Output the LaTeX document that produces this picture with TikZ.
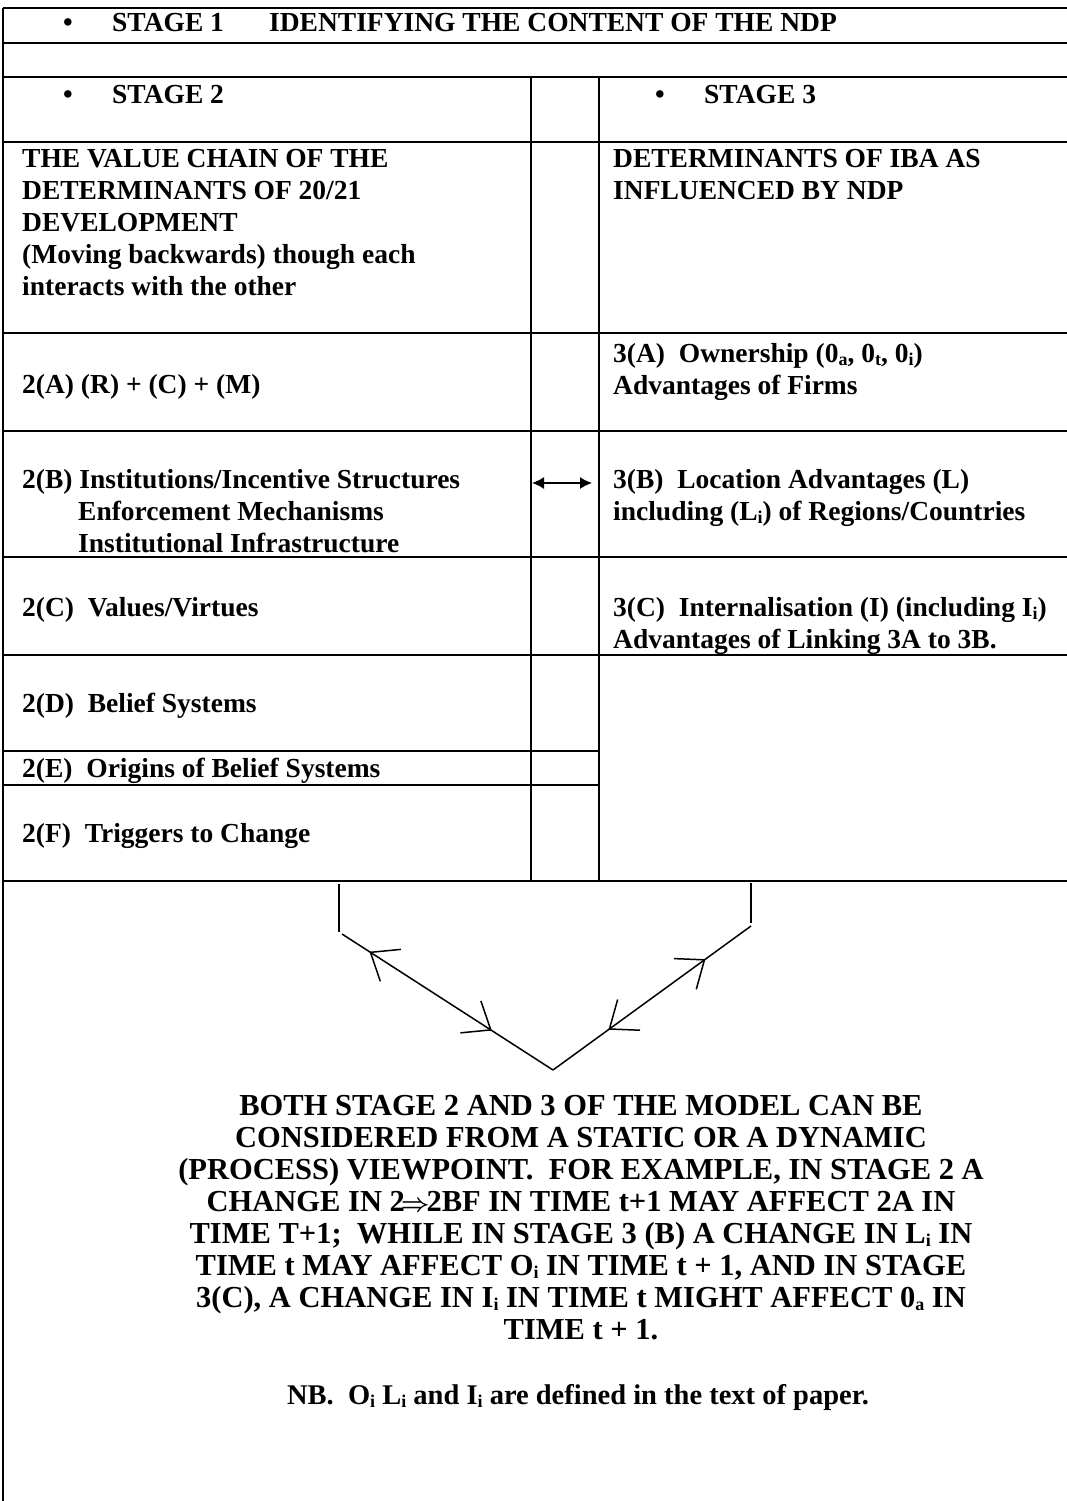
\documentclass[tikz,border=0pt]{standalone}
\usepackage{fontspec}
\setmainfont{Liberation Serif}
\usetikzlibrary{arrows.meta,decorations.markings}
\newcommand{\lowsub}[1]{\raisebox{-3pt}{\fontsize{18}{18}\selectfont #1}}

\begin{document}
\begin{tikzpicture}[x=1pt,y=-1pt,
  rule/.style={line width=2.6pt},
  thinrule/.style={line width=1.6pt},
  colrule/.style={line width=2pt},
  cell/.style={anchor=north west,inner sep=0pt,align=left,font=\bfseries\fontsize{27.5}{32}\selectfont},
  para/.style={anchor=north,inner sep=0pt,align=center,font=\bfseries\fontsize{30.5}{32}\selectfont},
  vline/.style={line width=1.5pt},
  vbarb/.tip={Straight Barb[length=24pt,width=38pt]}]
\useasboundingbox (0,0) rectangle (1067,1501);
\draw[colrule](3,8)--(3,1501);
\draw[rule](3,8)--(1067,8);
\draw[rule](3,43)--(1067,43);
\draw[rule](3,77)--(1067,77);
\draw[thinrule](3,142)--(1067,142);
\draw[rule](3,333)--(1067,333);
\draw[rule](3,431)--(1067,431);
\draw[thinrule](3,557)--(1067,557);
\draw[rule](3,655)--(1067,655);
\draw[rule](3,751)--(599,751);
\draw[thinrule](3,785)--(599,785);
\draw[rule](3,881)--(1067,881);
\draw[colrule](531,77)--(531,881);
\draw[colrule](599,77)--(599,881);
\node[cell] (s1) at (63,13) {\makebox[49pt][l]{\textbullet}\makebox[157pt][l]{STAGE 1}IDENTIFYING THE CONTENT OF THE NDP};
\node[cell] (s2h) at (63,85) {\makebox[49pt][l]{\textbullet}STAGE 2};
\node[cell] (s3h) at (655,85) {\makebox[49pt][l]{\textbullet}STAGE 3};
\node[cell] (s2t) at (22,149) {THE VALUE CHAIN OF THE\\DETERMINANTS OF 20/21\\DEVELOPMENT\\(Moving backwards) though each\\interacts with the other};
\node[cell] (s3t) at (613,149) {DETERMINANTS OF IBA AS\\INFLUENCED BY NDP};
\node[cell] (c2a) at (22,374) {2(A) (R) + (C) + (M)};
\node[cell] (c3a) at (613,343) {3(A)\ \ Ownership (0\lowsub{a}, 0\lowsub{t}, 0\lowsub{i})\\Advantages of Firms};
\node[cell] (c2b) at (22,469) {2(B) Institutions/Incentive Structures\\\hspace*{56pt}Enforcement Mechanisms\\\hspace*{56pt}Institutional Infrastructure};
\node[cell] (c3b) at (613,469) {3(B)\ \ Location Advantages (L)\\including (L\lowsub{i}) of Regions/Countries};
\node[cell] (c2c) at (22,597) {2(C)\ \ Values/Virtues};
\node[cell] (c3c) at (613,597) {3(C)\ \ Internalisation (I) (including I\lowsub{i})\\Advantages of Linking 3A to 3B.};
\node[cell] (c2d) at (22,693) {2(D)\ \ Belief Systems};
\node[cell] (c2e) at (22,758) {2(E)\ \ Origins of Belief Systems};
\node[cell] (c2f) at (22,823) {2(F)\ \ Triggers to Change};
\coordinate (lk1) at (532,483);
\coordinate (lk2) at (592,483);
\draw[line width=1.5pt,{Latex[length=12pt,width=12pt]}-{Latex[length=12pt,width=12pt]}](lk1)--(lk2);
\coordinate (lt) at (339,884);
\coordinate (lm) at (339,932);
\coordinate (ld) at (342,934);
\coordinate (vx) at (553,1070);
\coordinate (rd) at (751,926);
\coordinate (rm) at (751,923);
\coordinate (rt) at (751,883);
\draw[vline](lt)--(lm);
\draw[vline](rt)--(rm);
\draw[vline,postaction={decorate},decoration={markings,
  mark=at position 0.13 with {\arrowreversed{vbarb}},
  mark=at position 0.71 with {\arrow{vbarb}}}](ld)--(vx);
\draw[vline,postaction={decorate},decoration={markings,
  mark=at position 0.28 with {\arrowreversed{vbarb}},
  mark=at position 0.77 with {\arrow{vbarb}}}](vx)--(rd);
\node[para] (note) at (581,1095) {BOTH STAGE 2 AND 3 OF THE MODEL CAN BE\\CONSIDERED FROM A STATIC OR A DYNAMIC\\(PROCESS) VIEWPOINT.\ \ FOR EXAMPLE, IN STAGE 2 A\\CHANGE IN 2\kern-4pt{\boldmath$\Rightarrow$}\kern-3pt2BF IN TIME t+1 MAY AFFECT 2A IN\\TIME T+1;\ \ WHILE IN STAGE 3 (B) A CHANGE IN L\lowsub{i} IN\\TIME t MAY AFFECT O\lowsub{i} IN TIME t + 1, AND IN STAGE\\3(C), A CHANGE IN I\lowsub{i} IN TIME t MIGHT AFFECT 0\lowsub{a} IN\\TIME t + 1.};
\node[para,font=\bfseries\fontsize{28.5}{32}\selectfont] (nb) at (578,1384) {NB.\ \ O\lowsub{i} L\lowsub{i} and I\lowsub{i} are defined in the text of paper.};
\end{tikzpicture}
\end{document}
